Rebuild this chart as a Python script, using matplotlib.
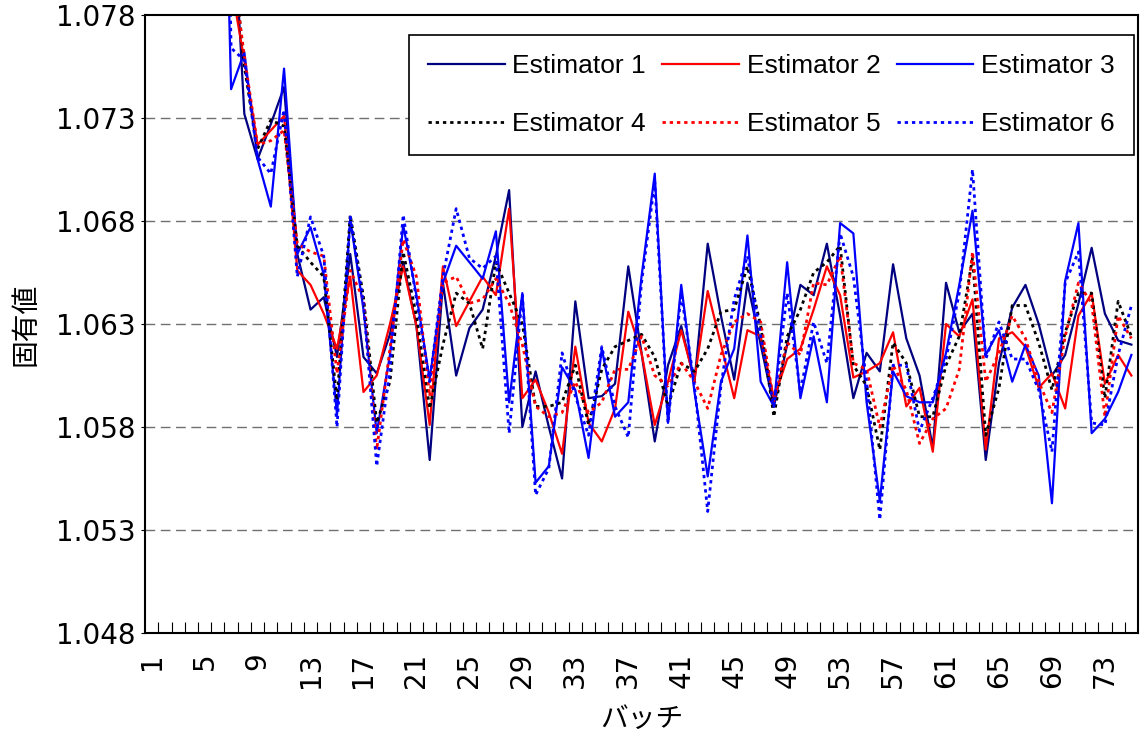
import numpy as np
import matplotlib
matplotlib.use("Agg")
import matplotlib.pyplot as plt
from matplotlib.ticker import FixedLocator

plt.rcParams['font.family'] = ['Liberation Sans', 'Noto Sans CJK JP', 'DejaVu Sans']

nan = np.nan
batches = np.arange(1, 76)

# eigenvalue per batch, batches 1-5 not plotted (off scale)
est1 = [nan, nan, nan, nan, nan, 1.100, 1.085, 1.0732, 1.0710, 1.0727,
        1.0745, 1.0664, 1.0637, 1.0643, 1.0614, 1.0664, 1.0614, 1.0606, 1.0625, 1.0660,
        1.0629, 1.0564, 1.0650, 1.0605, 1.0628, 1.0637, 1.0663, 1.0695, 1.0580, 1.0607,
        1.0580, 1.0555, 1.0641, 1.0594, 1.0595, 1.0601, 1.0658, 1.0616, 1.0573, 1.0610,
        1.0629, 1.0602, 1.0669, 1.0634, 1.0603, 1.0650, 1.0620, 1.0590, 1.0620, 1.0649,
        1.0644, 1.0669, 1.0634, 1.0594, 1.0616, 1.0607, 1.0659, 1.0623, 1.0605, 1.0570,
        1.0650, 1.0626, 1.0635, 1.0564, 1.0611, 1.0638, 1.0649, 1.0630, 1.0605, 1.0615,
        1.0640, 1.0667, 1.0635, 1.0622, 1.0620]
est2 = [nan, nan, nan, nan, nan, 1.090, 1.0795, 1.0758, 1.0717, 1.0724,
        1.0731, 1.0656, 1.0649, 1.0635, 1.0618, 1.0653, 1.0597, 1.0605, 1.0630, 1.0658,
        1.0629, 1.0581, 1.0658, 1.0629, 1.0641, 1.0653, 1.0644, 1.0686, 1.0594, 1.0603,
        1.0587, 1.0567, 1.0619, 1.0582, 1.0573, 1.0589, 1.0636, 1.0616, 1.0581, 1.0602,
        1.0627, 1.0603, 1.0646, 1.0620, 1.0594, 1.0627, 1.0624, 1.0594, 1.0613, 1.0618,
        1.0637, 1.0658, 1.0644, 1.0604, 1.0607, 1.0611, 1.0626, 1.0590, 1.0599, 1.0568,
        1.0630, 1.0624, 1.0642, 1.0569, 1.0623, 1.0626, 1.0619, 1.0599, 1.0606, 1.0589,
        1.0634, 1.0645, 1.0601, 1.0615, 1.0605]
est3 = [nan, nan, nan, nan, nan, 1.100, 1.0744, 1.0762, 1.0710, 1.0687,
        1.0754, 1.0664, 1.0677, 1.0654, 1.0586, 1.0681, 1.0637, 1.0577, 1.0615, 1.0678,
        1.0644, 1.0603, 1.0650, 1.0668, 1.0660, 1.0652, 1.0675, 1.0592, 1.0645, 1.0553,
        1.0561, 1.0609, 1.0598, 1.0565, 1.0618, 1.0585, 1.0592, 1.0653, 1.0703, 1.0582,
        1.0649, 1.0597, 1.0556, 1.0602, 1.0618, 1.0673, 1.0602, 1.0590, 1.0660, 1.0594,
        1.0624, 1.0592, 1.0679, 1.0674, 1.0592, 1.0544, 1.0607, 1.0595, 1.0592, 1.0592,
        1.0616, 1.0649, 1.0685, 1.0615, 1.0627, 1.0602, 1.0620, 1.0605, 1.0543, 1.0651,
        1.0679, 1.0577, 1.0584, 1.0597, 1.0615]
est4 = [nan, nan, nan, nan, nan, 1.095, 1.082, 1.0755, 1.0715, 1.0729,
        1.0726, 1.0668, 1.0660, 1.0653, 1.0593, 1.0683, 1.0643, 1.0582, 1.0602, 1.0665,
        1.0634, 1.0589, 1.0620, 1.0645, 1.0640, 1.0618, 1.0660, 1.0645, 1.0630, 1.0590,
        1.0590, 1.0592, 1.0610, 1.0581, 1.0608, 1.0619, 1.0622, 1.0625, 1.0614, 1.0590,
        1.0611, 1.0607, 1.0618, 1.0636, 1.0637, 1.0658, 1.0629, 1.0585, 1.0624, 1.0637,
        1.0655, 1.0660, 1.0668, 1.0610, 1.0600, 1.0569, 1.0621, 1.0611, 1.0585, 1.0585,
        1.0610, 1.0624, 1.0662, 1.0576, 1.0599, 1.0639, 1.0639, 1.0621, 1.0598, 1.0626,
        1.0645, 1.0645, 1.0594, 1.0641, 1.0624]
est5 = [nan, nan, nan, nan, nan, 1.092, 1.081, 1.0760, 1.0717, 1.0719,
        1.0724, 1.0669, 1.0665, 1.0663, 1.0606, 1.0656, 1.0642, 1.0569, 1.0618, 1.0671,
        1.0653, 1.0595, 1.0650, 1.0653, 1.0640, 1.0642, 1.0652, 1.0640, 1.0620, 1.0590,
        1.0585, 1.0587, 1.0602, 1.0587, 1.0592, 1.0608, 1.0608, 1.0624, 1.0605, 1.0600,
        1.0611, 1.0602, 1.0589, 1.0615, 1.0631, 1.0635, 1.0631, 1.0592, 1.0621, 1.0615,
        1.0650, 1.0649, 1.0663, 1.0611, 1.0608, 1.0580, 1.0610, 1.0598, 1.0572, 1.0584,
        1.0589, 1.0608, 1.0665, 1.0602, 1.0616, 1.0634, 1.0623, 1.0602, 1.0587, 1.0624,
        1.0650, 1.0640, 1.0585, 1.0634, 1.0623]
est6 = [nan, nan, nan, nan, nan, 1.110, 1.0764, 1.0758, 1.0711, 1.0703,
        1.0734, 1.0653, 1.0682, 1.0663, 1.0580, 1.0682, 1.0640, 1.0561, 1.0608, 1.0683,
        1.0642, 1.0602, 1.0653, 1.0686, 1.0662, 1.0657, 1.0663, 1.0577, 1.0644, 1.0547,
        1.0560, 1.0616, 1.0595, 1.0576, 1.0619, 1.0590, 1.0575, 1.0650, 1.0699, 1.0582,
        1.0645, 1.0600, 1.0539, 1.0600, 1.0642, 1.0663, 1.0624, 1.0590, 1.0645, 1.0597,
        1.0631, 1.0611, 1.0674, 1.0653, 1.0602, 1.0535, 1.0610, 1.0610, 1.0578, 1.0594,
        1.0613, 1.0645, 1.0705, 1.0613, 1.0631, 1.0613, 1.0613, 1.0598, 1.0568, 1.0650,
        1.0665, 1.0582, 1.0581, 1.0615, 1.0639]

names = ['Estimator 1', 'Estimator 2', 'Estimator 3',
         'Estimator 4', 'Estimator 5', 'Estimator 6']
series = [est1, est2, est3, est4, est5, est6]
colors = ['#000080', '#FF0000', '#0000FF', '#000000', '#FF0000', '#0000FF']
dotted = (0, (1.2, 1.4))
styles = ['-', '-', '-', dotted, dotted, dotted]

fig = plt.figure(figsize=(11.42, 7.33), dpi=100)
ax = fig.add_axes([0.127, 0.1364, 0.8695, 0.8431])

lines = []
for y, c, ls, name in zip(series, colors, styles, names):
    lw = 1.6 if ls == '-' else 2.0
    ln, = ax.plot(batches, y, color=c, linestyle=ls, lw=lw, label=name)
    lines.append(ln)

tick_font = dict(family='DejaVu Sans', size=20)

ax.set_xlim(0.5, 75.5)
ax.set_ylim(1.048, 1.078)
yt = [1.048, 1.053, 1.058, 1.063, 1.068, 1.073, 1.078]
ax.set_yticks(yt)
ax.set_yticklabels(['%.3f' % v for v in yt], fontdict=tick_font)
for v in yt[1:-1]:
    ax.axhline(v, color='#707070', lw=1, linestyle=(0, (7, 4)), zorder=0)

ax.xaxis.set_major_locator(FixedLocator(np.arange(1, 76, 4)))
ax.set_xticklabels([str(i) for i in range(1, 76, 4)], rotation=90,
                   va='top', fontdict=tick_font)
ax.xaxis.set_minor_locator(FixedLocator(np.arange(1.5, 75.5, 1)))
ax.tick_params(axis='x', which='major', length=0, pad=14)
ax.tick_params(axis='x', which='minor', direction='in', length=8, width=0.8)
ax.tick_params(axis='y', direction='out', length=3, pad=4)

for s in ax.spines.values():
    s.set_linewidth(1.5)

ax.set_xlabel('バッチ', fontsize=20, labelpad=14)
ax.set_ylabel('固有値', fontsize=20, labelpad=12)

order = [0, 3, 1, 4, 2, 5]
leg = ax.legend([lines[i] for i in order], [names[i] for i in order], ncol=3,
                loc='upper right', bbox_to_anchor=(0.996, 0.968), fontsize=19,
                frameon=True, fancybox=False, edgecolor='black', framealpha=1,
                handlelength=2.9, columnspacing=0.62, handletextpad=0.3,
                borderpad=0.72, labelspacing=1.3, borderaxespad=0)
leg.get_frame().set_linewidth(1.2)

fig.savefig('out.png', dpi=100)
